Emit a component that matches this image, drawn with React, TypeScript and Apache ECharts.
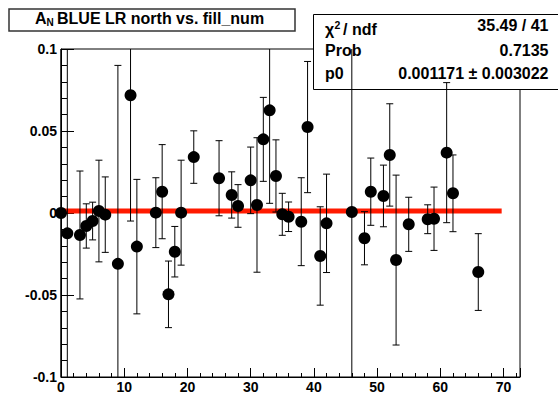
import React, { useEffect, useRef } from "react";
import * as echarts from "echarts";

const fillNum = [0, 1, 3, 4, 5, 6, 7, 9, 11, 12, 15, 16, 17, 18, 19, 21, 25, 27, 28, 30, 31, 32, 33, 34, 35, 36, 38, 39, 41, 42, 46, 48, 49, 51, 52, 53, 55, 58, 59, 61, 62, 66];
const asym = [0, -0.0124, -0.0134, -0.0079, -0.0049, 0.0012, -0.001, -0.031, 0.0718, -0.0205, 0.0002, 0.013, -0.0496, -0.0236, 0.0002, 0.0341, 0.0212, 0.011, 0.0043, 0.0199, 0.0049, 0.0449, 0.0626, 0.0226, -0.0008, -0.0023, -0.0053, 0.0524, -0.0262, -0.0063, 0.0006, -0.0154, 0.013, 0.0104, 0.0354, -0.0287, -0.0069, -0.0038, -0.0035, 0.0368, 0.012, -0.036];
const asymErr = [0.2, 0.2, 0.039, 0.0135, 0.0115, 0.031, 0.023, 0.121, 0.0767, 0.041, 0.0213, 0.0287, 0.0203, 0.0154, 0.032, 0.016, 0.0229, 0.0141, 0.013, 0.0203, 0.041, 0.0256, 0.0567, 0.022, 0.0128, 0.009, 0.0268, 0.04, 0.03, 0.03, 0.2, 0.0162, 0.0205, 0.0188, 0.0312, 0.0518, 0.0165, 0.0088, 0.0193, 0.0427, 0.0234, 0.0234];

const fitP0 = 0.001171;
const fitRange = [0, 69.7];
const statsLabels = ["Prob", "p0"];
const statsValues = ["35.49 / 41", "0.7135", "0.001171 \u00b1 0.003022"];

const FONT = "'Liberation Sans', Arial, Helvetica, sans-serif";

export default function App() {
  const ref = useRef<HTMLDivElement>(null);
  useEffect(() => {
    if (!ref.current) return;
    const chart = echarts.init(ref.current, null, { renderer: "svg" });
    const points = fillNum.map((x, i) => [x, asym[i], asymErr[i]]);
    const statText = (text: string, x: number, y: number, align: string, size = 16) => ({
      type: "text",
      z: 5,
      style: { text, x, y, align, verticalAlign: "middle", fill: "#000", font: `bold ${size}px ${FONT}` },
    });
    chart.setOption({
      animation: false,
      backgroundColor: "#fff",
      grid: { left: 61, right: 38, top: 49, bottom: 18, show: true, borderColor: "#000", borderWidth: 1, backgroundColor: "transparent" },
      xAxis: {
        type: "value",
        min: 0,
        max: 72.6,
        interval: 10,
        axisLine: { show: true, onZero: false, lineStyle: { color: "#000", width: 1 } },
        axisTick: { show: true, inside: true, length: 9, lineStyle: { color: "#000" } },
        minorTick: { show: true, splitNumber: 5, length: 4, lineStyle: { color: "#000" } },
        splitLine: { show: false },
        axisLabel: { show: true, margin: 3, color: "#000", fontSize: 14, fontWeight: "bold", fontFamily: FONT, showMaxLabel: false },
      },
      yAxis: {
        type: "value",
        min: -0.1,
        max: 0.1,
        interval: 0.05,
        axisLine: { show: true, onZero: false, lineStyle: { color: "#000", width: 1 } },
        axisTick: { show: true, inside: true, length: 13, lineStyle: { color: "#000" } },
        minorTick: { show: true, splitNumber: 5, length: 6, lineStyle: { color: "#000" } },
        splitLine: { show: false },
        axisLabel: { show: true, margin: 4, color: "#000", fontSize: 14, fontWeight: "bold", fontFamily: FONT },
      },
      graphic: [
        { type: "rect", z: 1, shape: { x: 9, y: 9, width: 286, height: 22 }, style: { fill: "#fff", stroke: "#333", lineWidth: 1.5 } },
        { type: "text", z: 5, style: { text: "A", x: 35, y: 18, verticalAlign: "middle", fill: "#000", font: `bold 16px ${FONT}` } },
        { type: "text", z: 5, style: { text: "N", x: 46.5, y: 22.5, verticalAlign: "middle", fill: "#000", font: `bold 10px ${FONT}` } },
        { type: "text", z: 5, style: { text: "BLUE LR north vs. fill_num", x: 57, y: 18, verticalAlign: "middle", fill: "#000", font: `bold 16px ${FONT}` } },
        { type: "rect", z: 1, shape: { x: 313.5, y: 14.5, width: 260, height: 75 }, style: { fill: "#fff", stroke: "#000", lineWidth: 1 } },
        statText("\u03c7", 325, 29, "left"),
        statText("2", 334.5, 24.5, "left", 10.5),
        statText("/ ndf", 343, 29, "left"),
        statText(statsLabels[0], 325, 50, "left"),
        statText(statsLabels[1], 325, 73, "left"),
        statText(statsValues[0], 548.5, 25.7, "right"),
        statText(statsValues[1], 548.5, 50, "right"),
        statText(statsValues[2], 548.5, 73, "right"),
      ],
      series: [
        {
          type: "line",
          z: 3,
          data: [[fitRange[0], fitP0], [fitRange[1], fitP0]],
          symbol: "none",
          lineStyle: { color: "#ff1a00", width: 5 },
          silent: true,
        },
        {
          type: "custom",
          z: 4,
          data: points,
          renderItem: (params: any, api: any) => {
            const x = api.value(0);
            const y = api.value(1);
            const e = api.value(2);
            const cs = params.coordSys;
            const top = api.coord([x, y + e]);
            const bot = api.coord([x, y - e]);
            const yMin = cs.y;
            const yMax = cs.y + cs.height;
            const px = top[0];
            const t = Math.max(top[1], yMin);
            const b = Math.min(bot[1], yMax);
            const style = { stroke: "#000", lineWidth: 1 };
            const children: any[] = [{ type: "line", shape: { x1: px, y1: t, x2: px, y2: b }, style }];
            if (top[1] >= yMin) children.push({ type: "line", shape: { x1: px - 3.5, y1: top[1], x2: px + 3.5, y2: top[1] }, style });
            if (bot[1] <= yMax) children.push({ type: "line", shape: { x1: px - 3.5, y1: bot[1], x2: px + 3.5, y2: bot[1] }, style });
            return { type: "group", children };
          },
        },
        {
          type: "scatter",
          z: 5,
          data: points.map((p) => [p[0], p[1]]),
          symbol: "circle",
          symbolSize: 12,
          itemStyle: { color: "#000", opacity: 1 },
        },
      ],
    });
    return () => chart.dispose();
  }, []);
  return <div ref={ref} style={{ width: 558, height: 395, position: "absolute", left: 0, top: 0 }} />;
}
